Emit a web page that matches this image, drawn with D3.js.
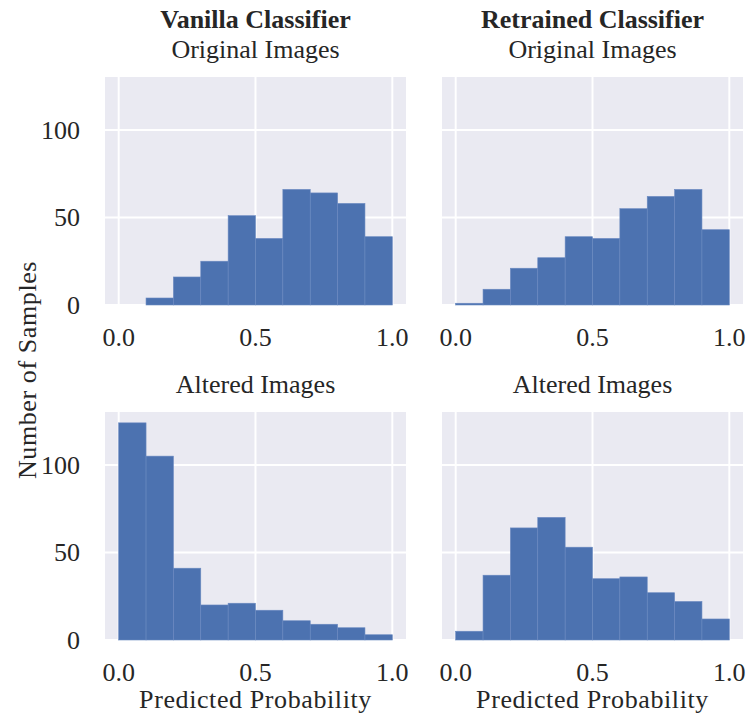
<!DOCTYPE html>
<meta charset="utf-8">
<head>
  <title>Predicted probability histograms</title>
  <script src="https://d3js.org/d3.v7.min.js"></script>
  <style>
    body { margin: 0; background: #fff; }
    text { font-family: "Liberation Serif", "DejaVu Serif", serif; fill: #262626; }
    .grid line { stroke: #fff; stroke-width: 2px; }
  </style>
</head>
<body>
<svg width="749" height="722"></svg>
<script>
  // bin edges 0.0 .. 1.0 in steps of 0.1
  const binEdges = [0, 0.1, 0.2, 0.3, 0.4, 0.5, 0.6, 0.7, 0.8, 0.9, 1.0];

  const vanillaOriginal   = [0, 4, 16, 25, 51, 38, 66, 64, 58, 39];
  const retrainedOriginal = [1, 9, 21, 27, 39, 38, 55, 62, 66, 43];
  const vanillaAltered    = [124, 105, 41, 20, 21, 17, 11, 9, 7, 3];
  const retrainedAltered  = [5, 37, 64, 70, 53, 35, 36, 27, 22, 12];

  const xTicks = [0, 0.5, 1.0];
  const yTicks = [0, 50, 100];

  const panels = [
    { counts: vanillaOriginal,   x0: 105, y0: 77,  head: "Vanilla Classifier",   sub: "Original Images", yLabels: true,  xLabel: false },
    { counts: retrainedOriginal, x0: 442, y0: 77,  head: "Retrained Classifier", sub: "Original Images", yLabels: false, xLabel: false },
    { counts: vanillaAltered,    x0: 105, y0: 412, head: null,                   sub: "Altered Images",  yLabels: true,  xLabel: true },
    { counts: retrainedAltered,  x0: 442, y0: 412, head: null,                   sub: "Altered Images",  yLabels: false, xLabel: true }
  ];

  const pw = 301, ph = 228;
  const fs = 26;

  const svg = d3.select("svg");

  const allMax = d3.max([vanillaOriginal, retrainedOriginal, vanillaAltered, retrainedAltered].flat());

  panels.forEach(function(p) {
    const x = d3.scaleLinear().domain([-0.05, 1.05]).range([0, pw]);
    const y = d3.scaleLinear().domain([0, allMax * 1.05]).range([ph, 0]);

    const g = svg.append("g").attr("transform", "translate(" + p.x0 + "," + p.y0 + ")");

    g.append("rect").attr("width", pw).attr("height", ph).attr("fill", "#EAEAF2");

    const grid = g.append("g").attr("class", "grid");
    grid.selectAll(".vx").data(xTicks).enter().append("line")
      .attr("x1", d => x(d)).attr("x2", d => x(d)).attr("y1", 0).attr("y2", ph);
    grid.selectAll(".hy").data(yTicks).enter().append("line")
      .attr("y1", d => y(d)).attr("y2", d => y(d)).attr("x1", 0).attr("x2", pw);

    g.selectAll(".bar").data(p.counts).enter().append("rect")
      .attr("x", (d, i) => x(binEdges[i]))
      .attr("width", (d, i) => x(binEdges[i + 1]) - x(binEdges[i]))
      .attr("y", d => y(d))
      .attr("height", d => y(0) - y(d))
      .attr("fill", "#4C72B0")
      .attr("stroke", "#6a89c0")
      .attr("stroke-width", 0.6);

    // x tick labels
    g.selectAll(".xt").data(xTicks).enter().append("text")
      .attr("x", d => x(d)).attr("y", ph + 41)
      .attr("text-anchor", "middle").attr("font-size", fs)
      .text(d => d3.format(".1f")(d));

    if (p.yLabels) {
      g.selectAll(".yt").data(yTicks).enter().append("text")
        .attr("x", -25).attr("y", d => y(d) + 9)
        .attr("text-anchor", "end").attr("font-size", fs)
        .text(d => d);
    }

    if (p.head) {
      g.append("text").attr("x", pw / 2).attr("y", -49)
        .attr("text-anchor", "middle").attr("font-size", fs).attr("font-weight", "bold")
        .text(p.head);
    }
    g.append("text").attr("x", pw / 2).attr("y", -19)
      .attr("text-anchor", "middle").attr("font-size", fs)
      .text(p.sub);

    if (p.xLabel) {
      g.append("text").attr("x", pw / 2).attr("y", ph + 68)
        .attr("text-anchor", "middle").attr("font-size", fs)
        .attr("letter-spacing", 0.6)
        .text("Predicted Probability");
    }
  });

  svg.append("text")
    .attr("transform", "translate(36,370) rotate(-90)")
    .attr("text-anchor", "middle").attr("font-size", fs)
    .attr("letter-spacing", 0.6)
    .text("Number of Samples");
</script>
</body>
